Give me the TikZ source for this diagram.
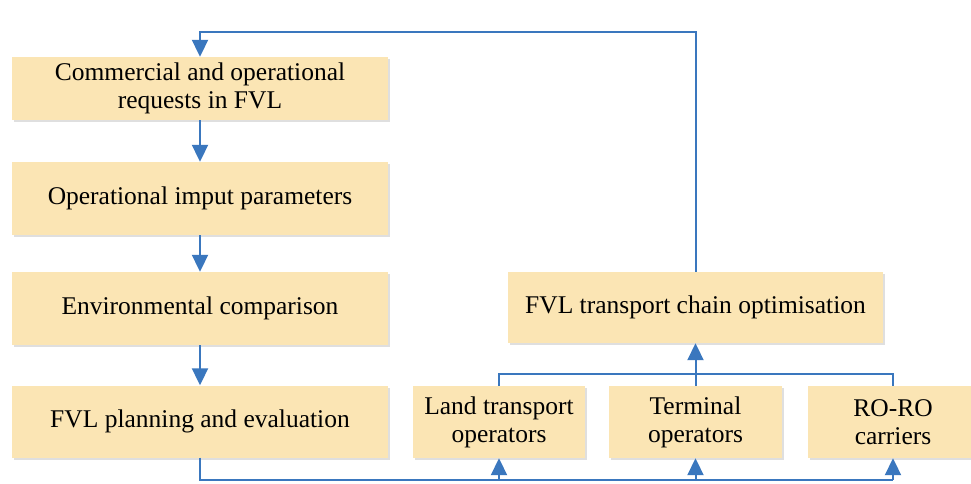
\documentclass[tikz,border=0pt]{standalone}
\usepackage{fontspec}
\setmainfont{Liberation Serif}
\usetikzlibrary{arrows.meta,shadows}
\definecolor{boxfill}{HTML}{FBE5B4}
\definecolor{lineblue}{HTML}{3A77BE}
\begin{document}
\begin{tikzpicture}[x=1pt,y=-1pt,
  box/.style={fill=boxfill, drop shadow={shadow xshift=1.5pt,shadow yshift=-2pt,opacity=0.25,fill=gray},
    align=center, font=\fontsize{25.5}{28}\selectfont, inner sep=0pt, text=black},
  conn/.style={draw=lineblue, line width=2pt, -{Triangle[width=16pt,length=17pt]}},
  link/.style={draw=lineblue, line width=2pt}]
\useasboundingbox[fill=white] (0,0) rectangle (971,483);
\node[box, minimum width=376pt, minimum height=63pt] (b1) at (200,88.5) {Commercial and operational\\requests in FVL};
\node[box, minimum width=376pt, minimum height=73pt] (b2) at (200,198.5) {Operational imput parameters};
\node[box, minimum width=376pt, minimum height=73pt] (b3) at (200,308.5) {Environmental comparison};
\node[box, minimum width=376pt, minimum height=72pt] (b4) at (200,421.5) {FVL planning and evaluation};
\node[box, minimum width=375pt, minimum height=71pt] (chain) at (695.5,307.5) {FVL transport chain optimisation};
\node[box, minimum width=172pt, minimum height=72pt] (land) at (499,422) {Land transport\\operators};
\node[box, minimum width=173pt, minimum height=72pt] (term) at (695.5,422) {Terminal\\operators};
\node[box, minimum width=170pt, minimum height=72pt] (roro) at (893,422) {RO-RO\\carriers};
\coordinate (topY) at (0,32);
\coordinate (busT) at (0,374);
\coordinate (busB) at (0,480);
\draw[conn] (b1) -- (b2);
\draw[conn] (b2) -- (b3);
\draw[conn] (b3) -- (b4);
\draw[conn] (chain.north) |- (b1.north |- topY) -- (b1.north);
\draw[link] (land.north) -- (land.north |- busT) -- (roro.north |- busT) -- (roro.north);
\draw[conn] (term.north) -- (chain.south);
\draw[link] (b4.south) -- (b4.south |- busB) -- (roro.south |- busB);
\draw[conn] (land.south |- busB) -- (land.south);
\draw[conn] (term.south |- busB) -- (term.south);
\draw[conn] (roro.south |- busB) -- (roro.south);
\end{tikzpicture}
\end{document}
